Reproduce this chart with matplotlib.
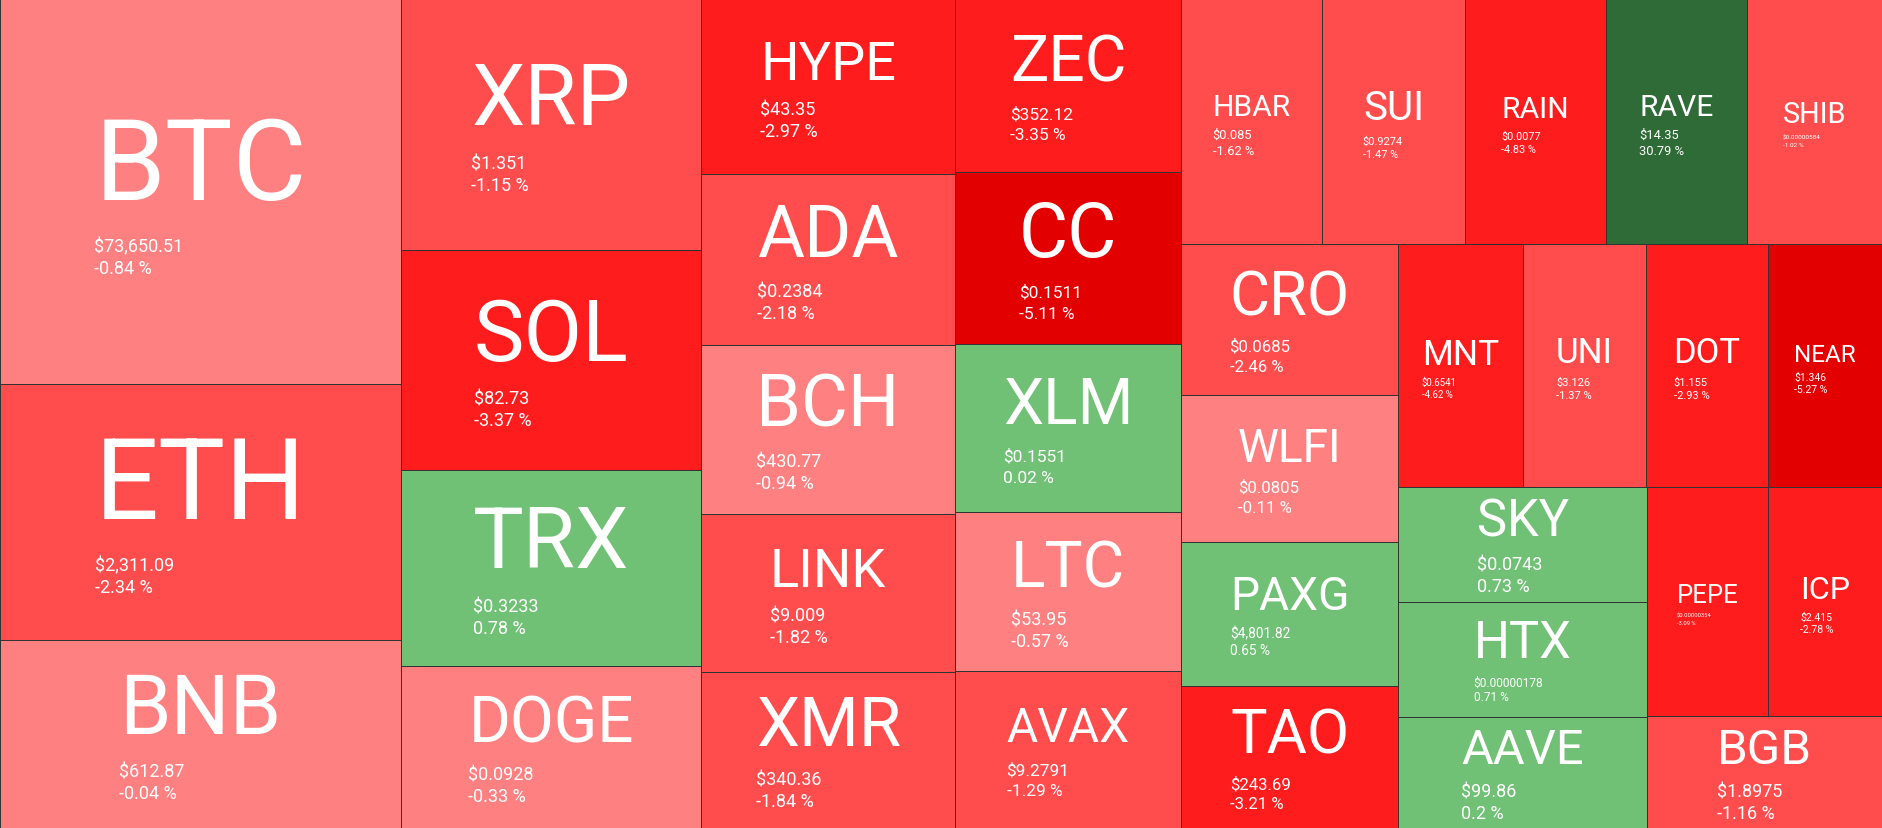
import matplotlib
matplotlib.use("Agg")
import matplotlib.pyplot as plt
from matplotlib.patches import Rectangle

# ---------------- data ----------------
symbols = ["BTC", "ETH", "BNB",
           "XRP", "SOL", "TRX", "DOGE",
           "HYPE", "ADA", "BCH", "LINK", "XMR",
           "ZEC", "CC", "XLM", "LTC", "AVAX",
           "HBAR", "SUI", "RAIN", "RAVE", "SHIB",
           "CRO", "WLFI", "PAXG", "TAO",
           "MNT", "UNI", "DOT", "NEAR",
           "SKY", "HTX", "AAVE",
           "PEPE", "ICP",
           "BGB"]
# relative tile size (weight)
weights = [154385, 102656, 75388,
           75300, 66000, 58800, 48600,
           44450, 43434, 42926, 40132, 39624,
           39098, 38872, 37968, 35934, 35482,
           34545, 34790, 34545, 34545, 33075,
           32767, 31899, 31248, 30814,
           30375, 29889, 29646, 27702,
           28635, 28635, 27639,
           27709, 26106,
           26320]
price_labels = ["$73,650.51", "$2,311.09", "$612.87",
                "$1.351", "$82.73", "$0.3233", "$0.0928",
                "$43.35", "$0.2384", "$430.77", "$9.009", "$340.36",
                "$352.12", "$0.1511", "$0.1551", "$53.95", "$9.2791",
                "$0.085", "$0.9274", "$0.0077", "$14.35", "$0.00000584",
                "$0.0685", "$0.0805", "$4,801.82", "$243.69",
                "$0.6541", "$3.126", "$1.155", "$1.346",
                "$0.0743", "$0.00000178", "$99.86",
                "$0.00000354", "$2.415",
                "$1.8975"]
changes = [-0.84, -2.34, -0.04,
           -1.15, -3.37, 0.78, -0.33,
           -2.97, -2.18, -0.94, -1.82, -1.84,
           -3.35, -5.11, 0.02, -0.57, -1.29,
           -1.62, -1.47, -4.83, 30.79, -1.02,
           -2.46, -0.11, 0.65, -3.21,
           -4.62, -1.37, -2.93, -5.27,
           0.73, 0.71, 0.2,
           -3.09, -2.78,
           -1.16]
# number of tiles in each squarified row/column strip
row_sizes = [3, 4, 5, 5, 5, 4, 4, 3, 2, 1]

# ---------------- style ----------------
W, H = 1882, 829
DPI = 100
PX2PT = 72.0 / DPI
FONT = "Roboto"


def tile_color(p):
    if p > 10:
        return "#2F6B36"
    if p >= 0:
        return "#70C175"
    if p > -1:
        return "#FF8080"
    if p > -2.5:
        return "#FF4D4D"
    if p > -5:
        return "#FF1C1C"
    return "#E30000"


def squarify_rows(values, counts, x0, y0, x1, y1):
    rects = []
    total = float(sum(values))
    i = 0
    for c in counts:
        row = values[i:i + c]
        s = float(sum(row))
        dx, dy = x1 - x0, y1 - y0
        if dx < dy:
            hh = dy * s / total
            xx = x0
            for v in row:
                ww = dx * v / s
                rects.append((xx, y0, ww, hh))
                xx += ww
            y0 += hh
        else:
            ww = dx * s / total
            yy = y0
            for v in row:
                hh = dy * v / s
                rects.append((x0, yy, ww, hh))
                yy += hh
            x0 += ww
        total -= s
        i += c
    return rects


fig = plt.figure(figsize=(W / DPI, H / DPI), dpi=DPI)
ax = fig.add_axes([0, 0, 1, 1])
ax.set_xlim(0, W)
ax.set_ylim(H, 0)
ax.axis("off")
renderer = fig.canvas.get_renderer()

rects = squarify_rows(weights, row_sizes, 0, 0, W, H)


def text_width(s, px):
    t = ax.text(0, 0, s, fontsize=px * PX2PT, family=FONT)
    bb = t.get_window_extent(renderer)
    t.remove()
    return bb.width


for sym, pr, ch, (x, y, w, h) in zip(symbols, price_labels, changes, rects):
    ax.add_patch(Rectangle((x, y), w, h, facecolor=tile_color(ch),
                           edgecolor="#333333", linewidth=1.0 * PX2PT))
    ft = min(0.85 * w / len(sym), 0.44 * h)
    pct = f"{ch} %"
    pw1 = text_width(pr, 10)
    fp = min(18.0, 10 * 0.28 * w / pw1)
    yb_off_price = 0.30 * ft + 0.93 * fp + 2
    yb_off_pct = yb_off_price + 1.2 * fp
    cap = 0.711 * ft
    span = cap + yb_off_pct
    cy = y + h / 2 + 0.01 * h
    yb = cy - span / 2 + cap
    wt = text_width(sym, ft)
    wp = text_width(pr, fp)
    wq = text_width(pct, fp)
    bw = max(wt, wp, wq)
    left = x + w / 2 - bw / 2
    ax.text(left, yb, sym, fontsize=ft * PX2PT, family=FONT, color="white",
            ha="left", va="baseline")
    ax.text(left, yb + yb_off_price, pr, fontsize=fp * PX2PT, family=FONT,
            color="white", ha="left", va="baseline")
    ax.text(left, yb + yb_off_pct, pct, fontsize=fp * PX2PT, family=FONT,
            color="white", ha="left", va="baseline")

fig.savefig("out.png", dpi=DPI)
